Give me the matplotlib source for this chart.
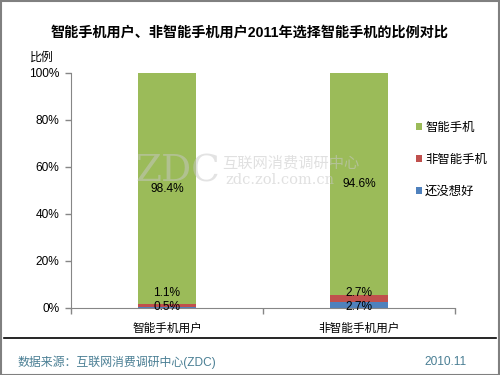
import numpy as np
import matplotlib
matplotlib.use('Agg')
import matplotlib.pyplot as plt
from matplotlib.patches import Rectangle
from matplotlib.lines import Line2D

plt.rcParams['font.family'] = ['Liberation Sans', 'Noto Sans CJK SC', 'DejaVu Sans']

# 數據
categories = ['智能手机用户', '非智能手机用户']
series_names = ['还没想好', '非智能手机', '智能手机']
undecided = [0.5, 2.7]
non_smart = [1.1, 2.7]
smart = [98.4, 94.6]
colors = ['#4F81BD', '#C0504D', '#9BBB59']
yticks = [0, 20, 40, 60, 80, 100]

title = '智能手机用户、非智能手机用户2011年选择智能手机的比例对比'
source = '数据来源：互联网消费调研中心(ZDC)'
date = '2010.11'

fig = plt.figure(figsize=(5, 3.75), dpi=100)
ax = fig.add_axes([0.142, 0.1787, 0.768, 0.6267])

x = np.arange(len(categories))
w = 0.3
values = [undecided, non_smart, smart]
bottom = np.zeros(len(categories))
bars = []
for vals, name, c in zip(values, series_names, colors):
    b = ax.bar(x, vals, w, bottom=bottom, color=c, label=name, zorder=2)
    bars.append(b)
    bottom = bottom + np.array(vals)

# 水印
fig.text(0.27, 0.543, 'ZDC', fontsize=27, family='DejaVu Serif', color='#c8c8c8',
         alpha=0.5, ha='left', va='center', zorder=3)
fig.text(0.444, 0.565, '互联网消费调研中心', fontsize=11, family='Noto Sans CJK SC',
         color='#c8c8c8', alpha=0.55, ha='left', va='center', zorder=3)
fig.text(0.45, 0.52, 'zdc.zol.com.cn', fontsize=10.5, family='DejaVu Serif',
         color='#c8c8c8', alpha=0.55, ha='left', va='center', zorder=3)

# 數據標籤
for i in range(len(categories)):
    ax.annotate(f'{undecided[i]}%', xy=(x[i], 0), xytext=(0, 0.8),
                textcoords='offset points', ha='center', va='center', fontsize=8.6, zorder=5)
    ax.annotate(f'{non_smart[i]}%', xy=(x[i], 0), xytext=(0, 10.8),
                textcoords='offset points', ha='center', va='center', fontsize=8.6, zorder=5)
    base = undecided[i] + non_smart[i]
    ax.text(x[i], base + smart[i] / 2, f'{smart[i]}%', ha='center', va='center',
            fontsize=8.6, zorder=5)

ax.set_xlim(-0.5, 1.5)
ax.set_ylim(0, 100)
ax.set_yticks(yticks)
ax.set_yticklabels([f'{t}%' for t in yticks], fontsize=8.6)
ax.set_xticks([-0.5, 0.5, 1.5])
ax.set_xticklabels([])
ax.set_xticks(x, minor=True)
ax.set_xticklabels(categories, minor=True, fontsize=8.4)
ax.tick_params(axis='x', which='minor', length=0, pad=11)
ax.tick_params(axis='both', which='major', direction='out', length=4, color='#868686', width=1)
ax.tick_params(axis='y', pad=4.5)
for s in ['top', 'right']:
    ax.spines[s].set_visible(False)
for s in ['left', 'bottom']:
    ax.spines[s].set_color('#868686')

# 圖例
handles = [bars[2], bars[1], bars[0]]
labels = [series_names[2], series_names[1], series_names[0]]
leg = fig.legend(handles, labels, loc='upper left', bbox_to_anchor=(0.822, 0.687),
                 frameon=False, fontsize=8.9, handlelength=0.5, handleheight=0.5,
                 handletextpad=0.25, labelspacing=1.6, borderaxespad=0)

# 標題與註腳
fig.text(0.5, 0.912, title, ha='center', va='center', fontsize=10.2, fontweight='bold')
fig.text(0.06, 0.845, '比例', ha='left', va='center', fontsize=8.6)
fig.add_artist(Line2D([0.008, 0.992], [0.099, 0.099], color='black', lw=1.2))
fig.text(0.034, 0.035, source, ha='left', va='center', fontsize=8.6, color='#4A7F94')
fig.text(0.848, 0.035, date, ha='left', va='center', fontsize=8.6, color='#4A7F94')
fig.add_artist(Rectangle((0.001, 0.001), 0.997, 0.997, transform=fig.transFigure,
                         fill=False, edgecolor='#808080', lw=1.5))

fig.savefig('out.png', dpi=100)
